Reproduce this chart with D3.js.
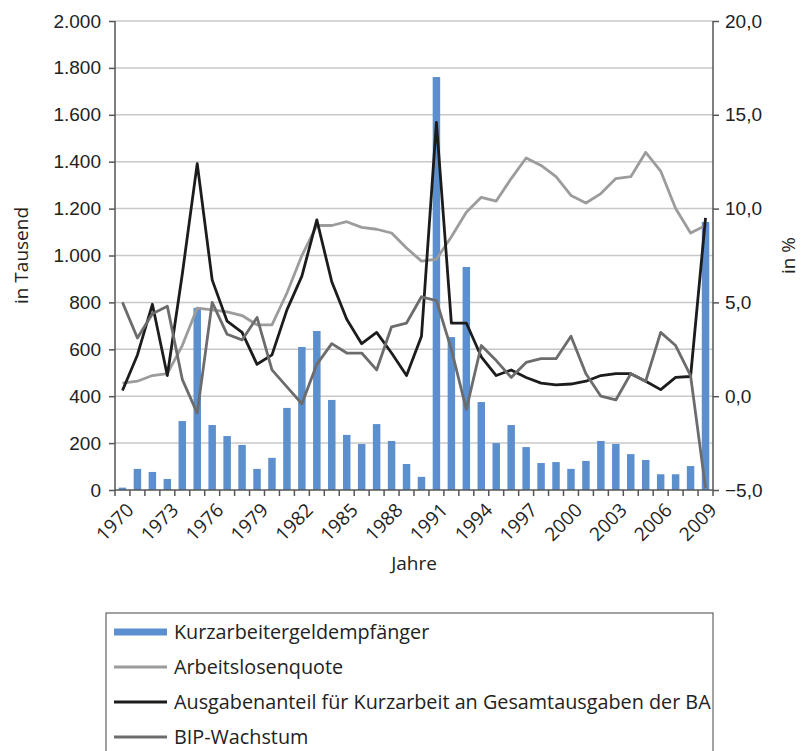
<!DOCTYPE html>
<html>
<head>
<meta charset="utf-8">
<script src="https://cdn.jsdelivr.net/npm/d3@7"></script>
<style>
    body { margin: 0; background: #fff; }
    svg { font-family: 'Open Sans', sans-serif; }
    .grid line { stroke: #c8c8c8; stroke-width: 1.5; }
    .axis path, .axis line { stroke: #555; stroke-width: 1.5; }
    .axis text { font-size: 19px; fill: #222; }
    .label { font-size: 19px; fill: #222; }
    .legend-text { font-size: 19.8px; fill: #222; }
</style>
</head>
<body>
<div id="chart"></div>
<script>
(function () {'use strict';

var years = d3.range(1970, 2010);

// Kurzarbeitergeldempfaenger, in Tausend
var kurzarbeiter = [
    10, 90, 77, 47, 294, 777, 277, 230, 192, 90,
    137, 350, 610, 678, 384, 235, 196, 281, 209, 111,
    56, 1761, 652, 951, 375, 200, 277, 183, 115, 119,
    90, 124, 209, 196, 153, 128, 67, 67, 102, 1143
];

// in %
var arbeitslosenquote = [
    0.7, 0.8, 1.1, 1.2, 2.7, 4.7, 4.6, 4.5, 4.3, 3.8,
    3.8, 5.5, 7.5, 9.1, 9.1, 9.3, 9.0, 8.9, 8.7, 7.9,
    7.2, 7.3, 8.5, 9.8, 10.6, 10.4, 11.6, 12.7, 12.3, 11.7,
    10.7, 10.3, 10.8, 11.6, 11.7, 13.0, 12.0, 10.0, 8.7, 9.1
];

var ausgabenanteil = [
    0.3, 2.2, 4.9, 1.1, 6.5, 12.4, 6.2, 4.0, 3.4, 1.7,
    2.2, 4.6, 6.4, 9.4, 6.1, 4.1, 2.8, 3.4, 2.3, 1.1,
    3.2, 14.6, 3.9, 3.9, 2.1, 1.1, 1.4, 1.0, 0.7, 0.6,
    0.65, 0.8, 1.1, 1.2, 1.2, 0.8, 0.35, 1.0, 1.05, 9.5
];

var bipWachstum = [
    5.0, 3.1, 4.4, 4.8, 0.9, -0.9, 5.0, 3.3, 3.0, 4.2,
    1.4, 0.5, -0.4, 1.7, 2.8, 2.3, 2.3, 1.4, 3.7, 3.9,
    5.3, 5.1, 2.5, -0.7, 2.7, 1.9, 1.0, 1.8, 2.0, 2.0,
    3.2, 1.2, 0.0, -0.2, 1.2, 0.8, 3.4, 2.7, 1.1, -4.9
];

var leftTicks  = d3.range(0, 2001, 200);
var rightTicks = [-5, 0, 5, 10, 15, 20];

var legendItems = [
    { name: 'Kurzarbeitergeldempfänger', color: '#5b8fcd', width: 7 },
    { name: 'Arbeitslosenquote', color: '#9c9c9c', width: 3 },
    { name: 'Ausgabenanteil für Kurzarbeit an Gesamtausgaben der BA', color: '#1c1c1c', width: 3 },
    { name: 'BIP-Wachstum', color: '#6c6c6c', width: 3 }
];

var margin = { top: 21, left: 115 },
    width  = 598,
    height = 469;

var svg = d3.select('#chart')
    .append('svg')
        .attr('width', 806)
        .attr('height', 751);

var chart = svg.append('g')
    .attr('transform', 'translate(' + margin.left + ',' + margin.top + ')');

var x = d3.scaleBand().domain(years).range([0, width]).paddingInner(0.5).paddingOuter(0.25),
    xLine = function (d, i) { return x(years[i]) + x.bandwidth() / 2; },
    y  = d3.scaleLinear().domain([0, 2000]).range([height, 0]),
    y2 = d3.scaleLinear().domain([-5, 20]).range([height, 0]);

var deFormat = d3.formatLocale({ decimal: ',', thousands: '.', grouping: [3], currency: ['', '€'] });

/*
 * GRID
 */
chart.append('g')
    .attr('class', 'grid')
    .selectAll('line')
    .data(leftTicks.slice(1))
    .enter().append('line')
        .attr('x1', 0)
        .attr('x2', width)
        .attr('y1', function (d) { return y(d); })
        .attr('y2', function (d) { return y(d); });

// Bars
chart.append('g')
    .selectAll('rect')
    .data(kurzarbeiter)
    .enter().append('rect')
        .attr('x', function (d, i) { return x(years[i]); })
        .attr('y', function (d) { return y(d); })
        .attr('width', x.bandwidth())
        .attr('height', function (d) { return height - y(d); })
        .attr('fill', legendItems[0].color);

// Lines
var line = d3.line()
    .x(xLine)
    .y(function (d) { return y2(d); });

[arbeitslosenquote, ausgabenanteil, bipWachstum].forEach(function (series, k) {
    chart.append('path')
        .attr('d', line(series))
        .attr('fill', 'none')
        .attr('stroke', legendItems[k + 1].color)
        .attr('stroke-width', 2.8)
        .attr('stroke-linejoin', 'round');
});

/*
 * AXES
 */
chart.append('g')
    .attr('class', 'axis')
    .call(d3.axisLeft(y).tickValues(leftTicks).tickSize(6).tickPadding(8)
        .tickFormat(deFormat.format(',')))
    .call(function (g) { g.select('.domain').attr('d', 'M0,0V' + height); });

chart.append('g')
    .attr('class', 'axis')
    .attr('transform', 'translate(' + width + ',0)')
    .call(d3.axisRight(y2).tickValues(rightTicks).tickSize(6).tickPadding(6)
        .tickFormat(deFormat.format(',.1f')))
    .call(function (g) { g.select('.domain').attr('d', 'M0,0V' + height); });

// x axis: ticks between categories
var xAxis = chart.append('g')
    .attr('class', 'axis')
    .attr('transform', 'translate(0,' + height + ')');

xAxis.append('line')
    .attr('x1', 0).attr('x2', width);

xAxis.selectAll('line.tick')
    .data(years.concat([2010]))
    .enter().append('line')
        .attr('class', 'tick')
        .attr('x1', function (d, i) { return i * width / years.length; })
        .attr('x2', function (d, i) { return i * width / years.length; })
        .attr('y1', 0)
        .attr('y2', 6);

xAxis.selectAll('text')
    .data(years.filter(function (d) { return (d - 1970) % 3 === 0; }))
    .enter().append('text')
        .attr('text-anchor', 'end')
        .attr('transform', function (d) {
            return 'translate(' + (x(d) + x.bandwidth() / 2 + 3) + ',12) rotate(-45)';
        })
        .attr('dy', '0.7em')
        .text(function (d) { return d; });

// Axis titles
svg.append('text')
    .attr('class', 'label')
    .attr('text-anchor', 'middle')
    .attr('transform', 'translate(28,' + (margin.top + height / 2) + ') rotate(-90)')
    .text('in Tausend');

svg.append('text')
    .attr('class', 'label')
    .attr('text-anchor', 'middle')
    .attr('transform', 'translate(795,' + (margin.top + height / 2) + ') rotate(-90)')
    .text('in %');

svg.append('text')
    .attr('class', 'label')
    .attr('text-anchor', 'middle')
    .attr('x', margin.left + width / 2)
    .attr('y', 570)
    .text('Jahre');

/*
 * LEGEND
 */
var legend = svg.append('g')
    .attr('transform', 'translate(106,613)');

legend.append('rect')
    .attr('x', 0)
    .attr('y', 0)
    .attr('width', 607)
    .attr('height', 150)
    .attr('fill', 'none')
    .attr('stroke', '#444')
    .attr('stroke-width', 1);

var entry = legend.selectAll('g.entry')
    .data(legendItems)
    .enter().append('g')
        .attr('class', 'entry')
        .attr('transform', function (d, i) { return 'translate(0,' + (19 + i * 35) + ')'; });

entry.append('line')
    .attr('x1', 8)
    .attr('x2', 61)
    .attr('stroke', function (d) { return d.color; })
    .attr('stroke-width', function (d) { return d.width; });

entry.append('text')
    .attr('class', 'legend-text')
    .attr('x', 68)
    .attr('dy', '0.35em')
    .text(function (d) { return d.name; });

})();
</script>
</body>
</html>
